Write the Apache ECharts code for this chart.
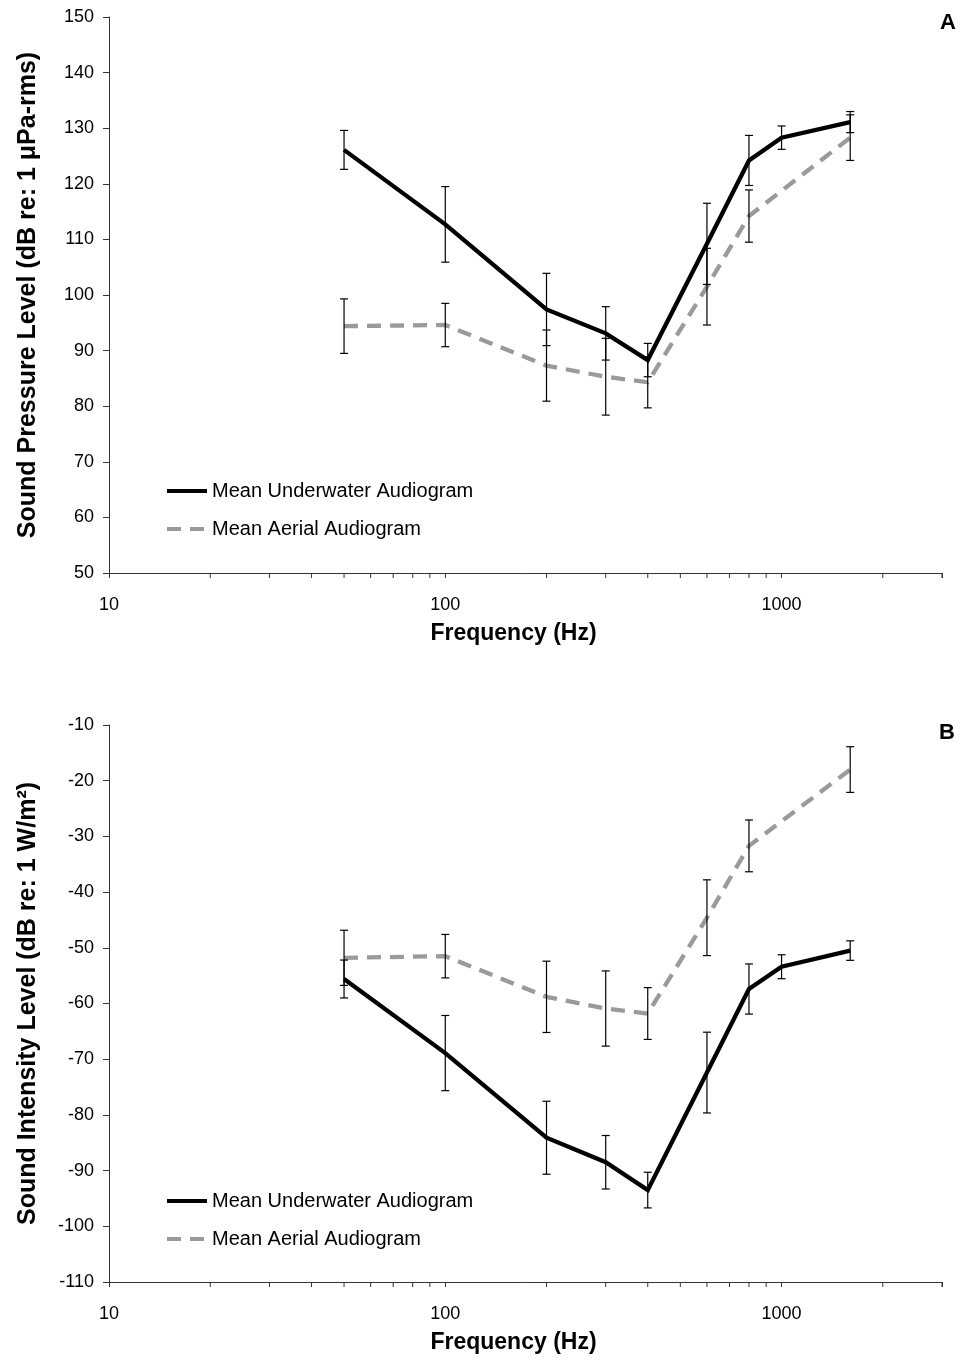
<!DOCTYPE html>
<html>
<head>
<meta charset="utf-8">
<script src="https://cdn.jsdelivr.net/npm/echarts@6/dist/echarts.min.js"></script>
<style>
  html, body { margin: 0; padding: 0; background: #fff; }
  #chart { width: 964px; height: 1362px; }
</style>
</head>
<body>
<div id="chart"></div>
<script>
// Test frequencies (Hz)
const freqUnderwater = [50, 100, 200, 300, 400, 600, 800, 1000, 1600];
const freqAerial = [50, 100, 200, 300, 400, 600, 800, 1600];

// Panel A: sound pressure level thresholds (dB re: 1 µPa-rms)
const splUnderwater = [126.1, 112.7, 97.4, 93.1, 88.3, 109.2, 124.2, 128.3, 131.1];
const splUnderwaterErr = [3.5, 6.8, 6.5, 4.8, 3.0, 7.3, 4.5, 2.1, 1.9];
const splAerial = [94.4, 94.6, 87.3, 85.3, 84.3, 101.5, 114.2, 128.3];
const splAerialErr = [4.9, 3.9, 6.4, 6.9, 4.6, 6.9, 4.7, 4.1];

// Panel B: sound intensity level thresholds (dB re: 1 W/m²)
const silUnderwater = [-55.6, -68.9, -84.1, -88.5, -93.5, -72.4, -57.4, -53.4, -50.5];
const silUnderwaterErr = [3.4, 6.75, 6.55, 4.8, 3.2, 7.25, 4.5, 2.15, 1.75];
const silAerial = [-51.8, -51.5, -58.8, -60.9, -61.8, -44.6, -31.7, -18.0];
const silAerialErr = [4.95, 3.9, 6.4, 6.75, 4.65, 6.8, 4.65, 4.1];

// Axis ranges and labels
const freqMin = 10, freqMax = 3000;
const freqLabels = [10, 100, 1000];
const minorFreqTicks = [20, 30, 40, 50, 60, 70, 80, 90, 200, 300, 400, 500, 600, 700, 800, 900, 2000, 3000];
const splRange = [50, 150];
const silRange = [-110, -10];
const nameUnderwater = 'Mean Underwater Audiogram';
const nameAerial = 'Mean Aerial Audiogram';

const FONT = "'Liberation Sans', Arial, sans-serif";
const AXIS_COLOR = '#333';
const AERIAL_COLOR = '#9a9a9a';

function pairs(xs, ys) { return xs.map((x, i) => [x, ys[i]]); }
function errRows(xs, ys, es) { return xs.map((x, i) => [x, ys[i] - es[i], ys[i] + es[i]]); }

function errorBarSeries(idx, rows) {
  return {
    type: 'custom',
    xAxisIndex: idx, yAxisIndex: idx,
    data: rows,
    z: 5,
    silent: true,
    encode: { x: 0, y: [1, 2] },
    renderItem: function (params, api) {
      const x = api.value(0);
      const lo = api.coord([x, api.value(1)]);
      const hi = api.coord([x, api.value(2)]);
      const cap = 4;
      const style = { stroke: '#000', lineWidth: 1.2 };
      return {
        type: 'group',
        children: [
          { type: 'line', shape: { x1: lo[0], y1: lo[1], x2: hi[0], y2: hi[1] }, style: style },
          { type: 'line', shape: { x1: lo[0] - cap, y1: lo[1], x2: lo[0] + cap, y2: lo[1] }, style: style },
          { type: 'line', shape: { x1: hi[0] - cap, y1: hi[1], x2: hi[0] + cap, y2: hi[1] }, style: style }
        ]
      };
    }
  };
}

// Minor ticks of the log frequency axis (2–9 × each decade)
function minorTickSeries(idx, yMin) {
  return {
    type: 'custom',
    xAxisIndex: idx, yAxisIndex: idx,
    data: minorFreqTicks.map(v => [v, yMin]),
    silent: true,
    clip: false,
    renderItem: function (params, api) {
      const p = api.coord([api.value(0), api.value(1)]);
      return {
        type: 'line',
        shape: { x1: p[0], y1: p[1], x2: p[0], y2: p[1] + 5 },
        style: { stroke: AXIS_COLOR, lineWidth: 1 }
      };
    }
  };
}

function xAxisFor(idx) {
  return {
    type: 'log', logBase: 10, gridIndex: idx,
    min: freqMin, max: freqMax,
    name: 'Frequency (Hz)', nameLocation: 'middle', nameGap: 49,
    nameTextStyle: { fontFamily: FONT, fontWeight: 'bold', fontSize: 23, color: '#000', padding: [0, 24, 0, 0] },
    axisLine: { show: true, lineStyle: { color: AXIS_COLOR, width: 1 } },
    axisTick: { show: true, length: 5, lineStyle: { color: AXIS_COLOR } },
    axisLabel: {
      fontFamily: FONT, fontSize: 18, color: '#000', margin: 23,
      formatter: v => (freqLabels.includes(Math.round(v)) ? String(Math.round(v)) : '')
    },
    splitLine: { show: false }
  };
}

function yAxisFor(idx, range, title) {
  return {
    type: 'value', gridIndex: idx,
    min: range[0], max: range[1], interval: 10,
    name: title, nameLocation: 'middle', nameRotate: 90, nameGap: 68,
    nameTextStyle: { fontFamily: FONT, fontWeight: 'bold', fontSize: 25, color: '#000' },
    axisLine: { show: true, lineStyle: { color: AXIS_COLOR, width: 1 } },
    axisTick: { show: true, length: 6, lineStyle: { color: AXIS_COLOR } },
    axisLabel: { fontFamily: FONT, fontSize: 18, color: '#000', margin: 15 },
    splitLine: { show: false }
  };
}

function legendAt(top) {
  return {
    orient: 'vertical', left: 165, top: top, padding: 0,
    itemWidth: 40, itemHeight: 14, itemGap: 16,
    selectedMode: false,
    data: [nameUnderwater, nameAerial],
    itemStyle: { opacity: 0 },
    lineStyle: { width: 4 },
    textStyle: { fontFamily: FONT, fontSize: 20, color: '#000', lineHeight: 22 }
  };
}

function lineSeries(idx, name, data, color, dashed) {
  return {
    type: 'line', name: name,
    xAxisIndex: idx, yAxisIndex: idx,
    data: data, symbol: 'none', z: 3,
    lineStyle: { color: color, width: 4.3, type: dashed ? [14, 9] : 'solid', cap: 'butt', join: 'miter' },
    itemStyle: { color: color },
    emphasis: { disabled: true }
  };
}

const chart = echarts.init(document.getElementById('chart'), null, { renderer: 'canvas' });
chart.setOption({
  backgroundColor: '#fff',
  animation: false,
  grid: [
    { left: 109, top: 17, width: 833, height: 556 },
    { left: 109, top: 725, width: 833, height: 557 }
  ],
  title: [
    { text: 'A', right: 8, top: 12, padding: 0, textStyle: { fontFamily: FONT, fontWeight: 'bold', fontSize: 22, color: '#000' } },
    { text: 'B', right: 9, top: 722, padding: 0, textStyle: { fontFamily: FONT, fontWeight: 'bold', fontSize: 22, color: '#000' } }
  ],
  legend: [legendAt(480), legendAt(1190)],
  xAxis: [xAxisFor(0), xAxisFor(1)],
  yAxis: [
    yAxisFor(0, splRange, 'Sound Pressure Level (dB re: 1 μPa-rms)'),
    yAxisFor(1, silRange, 'Sound Intensity Level (dB re: 1 W/m²)')
  ],
  series: [
    lineSeries(0, nameUnderwater, pairs(freqUnderwater, splUnderwater), '#000', false),
    lineSeries(0, nameAerial, pairs(freqAerial, splAerial), AERIAL_COLOR, true),
    errorBarSeries(0, errRows(freqUnderwater, splUnderwater, splUnderwaterErr)),
    errorBarSeries(0, errRows(freqAerial, splAerial, splAerialErr)),
    minorTickSeries(0, splRange[0]),
    lineSeries(1, nameUnderwater, pairs(freqUnderwater, silUnderwater), '#000', false),
    lineSeries(1, nameAerial, pairs(freqAerial, silAerial), AERIAL_COLOR, true),
    errorBarSeries(1, errRows(freqUnderwater, silUnderwater, silUnderwaterErr)),
    errorBarSeries(1, errRows(freqAerial, silAerial, silAerialErr)),
    minorTickSeries(1, silRange[0])
  ]
});
</script>
</body>
</html>
